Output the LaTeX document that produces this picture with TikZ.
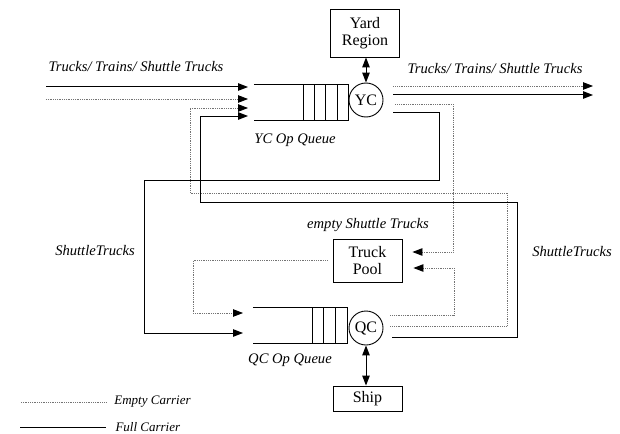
\documentclass[tikz,border=0pt]{standalone}
\usepackage{fontspec}
\setmainfont{Liberation Serif}
\usepackage{tikz}
\usetikzlibrary{arrows.meta,calc,positioning}
\tikzset{
  full/.style={line width=1pt},
  empty/.style={black!55,densely dotted,line width=0.8pt},
  box/.style={draw,line width=0.9pt,minimum width=69pt,inner sep=1pt,align=center,font=\fontsize{16}{17}\selectfont},
  circ/.style={draw,circle,line width=0.9pt,minimum size=34pt,inner sep=0pt,font=\fontsize{16}{17}\selectfont},
  queue/.style={minimum width=94pt,minimum height=35pt,inner sep=0pt},
  qline/.style={line width=1pt},
  lbl/.style={font=\fontsize{14.6}{16}\selectfont\itshape},
  leg/.style={font=\fontsize{13}{14}\selectfont\itshape,text=black,inner sep=0pt,anchor=west}
}

\begin{document}
\begin{tikzpicture}[x=1pt,y=-1pt,>={Triangle[length=10pt,width=7.5pt,color=black]},line join=miter]
\useasboundingbox (0,0) rectangle (620,433);
% --- servers and queues
\node[box,minimum height=48pt] (yard) at (365,33) {Yard\\Region};
\node[circ] (yc) at (366,100) {YC};
\node[queue] (ycq) at (301,102.5) {};
\node[box,minimum height=43pt] (pool) at (367.5,260.5) {Truck\\Pool};
\node[circ] (qc) at (366,328) {QC};
\node[queue] (qcq) at (300,325.5) {};
\node[box,minimum height=25pt] (ship) at (367.5,398.5) {Ship};
\draw[qline] (ycq.north west) -- (ycq.north east) -- (ycq.south east) -- (ycq.south west);
\foreach \d in {11,23,34,45} \draw[qline] ([xshift=-\d pt]ycq.north east) -- ([xshift=-\d pt]ycq.south east);
\draw[qline] (qcq.north west) -- (qcq.north east) -- (qcq.south east) -- (qcq.south west);
\foreach \d in {12,24,35} \draw[qline] ([xshift=-\d pt]qcq.north east) -- ([xshift=-\d pt]qcq.south east);
\draw[full,<->] (yc.north) -- (yc.north |- yard.south);
\draw[full,<->] (qc.south) -- (qc.south |- ship.north);

% --- labels
\node[lbl] (inlbl) at (136,67) {Trucks/ Trains/ Shuttle Trucks};
\node[lbl] (outlbl) at (495,69) {Trucks/ Trains/ Shuttle Trucks};
\node[lbl] (ycqlbl) at (295,140) {YC Op Queue};
\node[lbl] (qcqlbl) at (290,360) {QC Op Queue};
\node[lbl] (emptylbl) at (368,225) {empty Shuttle Trucks};
\node[lbl] (shuttlel) at (95,251) {ShuttleTrucks};
\node[lbl] (shuttler) at (572,252) {ShuttleTrucks};

% --- end points
\coordinate (srcfull) at (46,87);
\coordinate (srcempty) at (46,99);
\coordinate (ycin1) at (248,87);
\coordinate (ycin2) at (248,99);
\coordinate (ycin3) at (248,108);
\coordinate (ycin4) at (248,116);
\coordinate (qcin1) at (243,313);
\coordinate (qcin2) at (243,333);
\coordinate (sinkempty) at (593,86);
\coordinate (sinkfull) at (593,95);

% --- arrivals at YC
\draw[full,->] (srcfull) -- (ycin1);
\draw[empty,->] (srcempty) -- (ycin2);
\draw[empty,->] ($(qc.east)+(7,-2)$) -- (507,326) -- (507,193) -- (190,193) -- (190,108) -- (ycin3);
\draw[full,->] ($(qc.east)+(9,9)$) -- (517,337) -- (517,202) -- (200,202) -- (200,116) -- (ycin4);
% --- departures from YC
\draw[empty,->] ($(yc.east)+(10,-14)$) -- (sinkempty);
\draw[full,->] ($(yc.east)+(10,-5)$) -- (sinkfull);
\draw[empty,->] ($(yc.east)+(12,4)$) -- (453,104) -- (453,252) -- ($(pool.east)+(10,-8.5)$);
\draw[full,->] ($(yc.east)+(10,12)$) -- (439,112) -- (439,180) -- (144,180) -- (144,333) -- (qcin2);
% --- QC back to pool, pool to QC
\draw[empty,->] ($(qc.east)+(7,-13)$) -- (454,315) -- (454,268) -- ($(pool.east)+(11,7.5)$);
\draw[empty,->] ($(pool.west)+(-5,0)$) -- (193,260.5) -- (193,313) -- (qcin1);

% --- legend
\coordinate (legempty) at (21,402);
\coordinate (legfull) at (20,427);
\draw[empty] (legempty) -- ++(85,0) node[leg,xshift=8pt] (emptytxt) {Empty Carrier};
\draw[full] (legfull) -- ++(86,0) node[leg,xshift=9pt] (fulltxt) {Full Carrier};
\end{tikzpicture}
\end{document}
